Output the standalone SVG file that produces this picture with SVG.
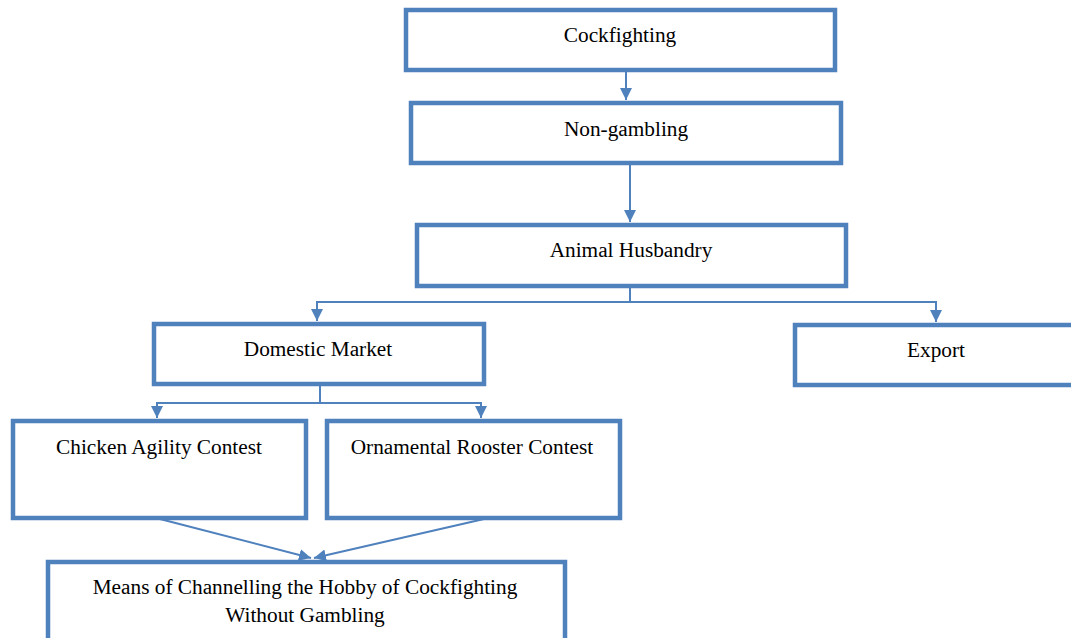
<svg xmlns="http://www.w3.org/2000/svg" width="1071" height="638" viewBox="0 0 1071 638">
<defs>
<style>
.box{fill:#fff;stroke:#4F81BD;stroke-width:4.5;}
.t{font-family:"Liberation Serif","Times New Roman",serif;font-size:21.3px;fill:#000;text-anchor:middle;}
.c{fill:none;stroke:#4F81BD;stroke-width:2;}
</style>
<marker id="ah" viewBox="0 0 12 12" refX="12" refY="6" markerWidth="12" markerHeight="12" markerUnits="userSpaceOnUse" orient="auto">
<path d="M0,0 L12,6 L0,12 Z" fill="#4F81BD"/>
</marker>
</defs>
<g id="connectors">
<line class="c" x1="626" y1="72" x2="626" y2="100" marker-end="url(#ah)"/>
<line class="c" x1="630" y1="164" x2="630" y2="222" marker-end="url(#ah)"/>
<polyline class="c" points="630,287 630,302 317,302 317,321" marker-end="url(#ah)"/>
<polyline class="c" points="630,302 936,302 936,322" marker-end="url(#ah)"/>
<polyline class="c" points="320,385 320,403 157,403 157,418" marker-end="url(#ah)"/>
<polyline class="c" points="320,403 481,403 481,418" marker-end="url(#ah)"/>
<line class="c" x1="160" y1="519" x2="311" y2="558" marker-end="url(#ah)"/>
<line class="c" x1="484" y1="519" x2="314" y2="558" marker-end="url(#ah)"/>
</g>
<g id="n1"><rect class="box" x="406" y="10" width="429" height="60"/><text class="t" x="620" y="42">Cockfighting</text></g>
<g id="n2"><rect class="box" x="411" y="103" width="430" height="60"/><text class="t" x="626" y="136">Non-gambling</text></g>
<g id="n3"><rect class="box" x="417" y="225" width="429" height="61"/><text class="t" x="631" y="257">Animal Husbandry</text></g>
<g id="n4"><rect class="box" x="154" y="324" width="330" height="60"/><text class="t" x="318" y="356">Domestic Market</text></g>
<g id="n5"><rect class="box" x="795" y="325" width="290" height="60"/><text class="t" x="936" y="357">Export</text></g>
<g id="n6"><rect class="box" x="13" y="421" width="293" height="97"/><text class="t" x="159" y="454">Chicken Agility Contest</text></g>
<g id="n7"><rect class="box" x="327" y="421" width="293" height="97"/><text class="t" x="472" y="454">Ornamental Rooster Contest</text></g>
<g id="n8"><rect class="box" x="48" y="562" width="517" height="90"/><text class="t" x="305" y="594">Means of Channelling the Hobby of Cockfighting</text><text class="t" x="305" y="622">Without Gambling</text></g>
</svg>
